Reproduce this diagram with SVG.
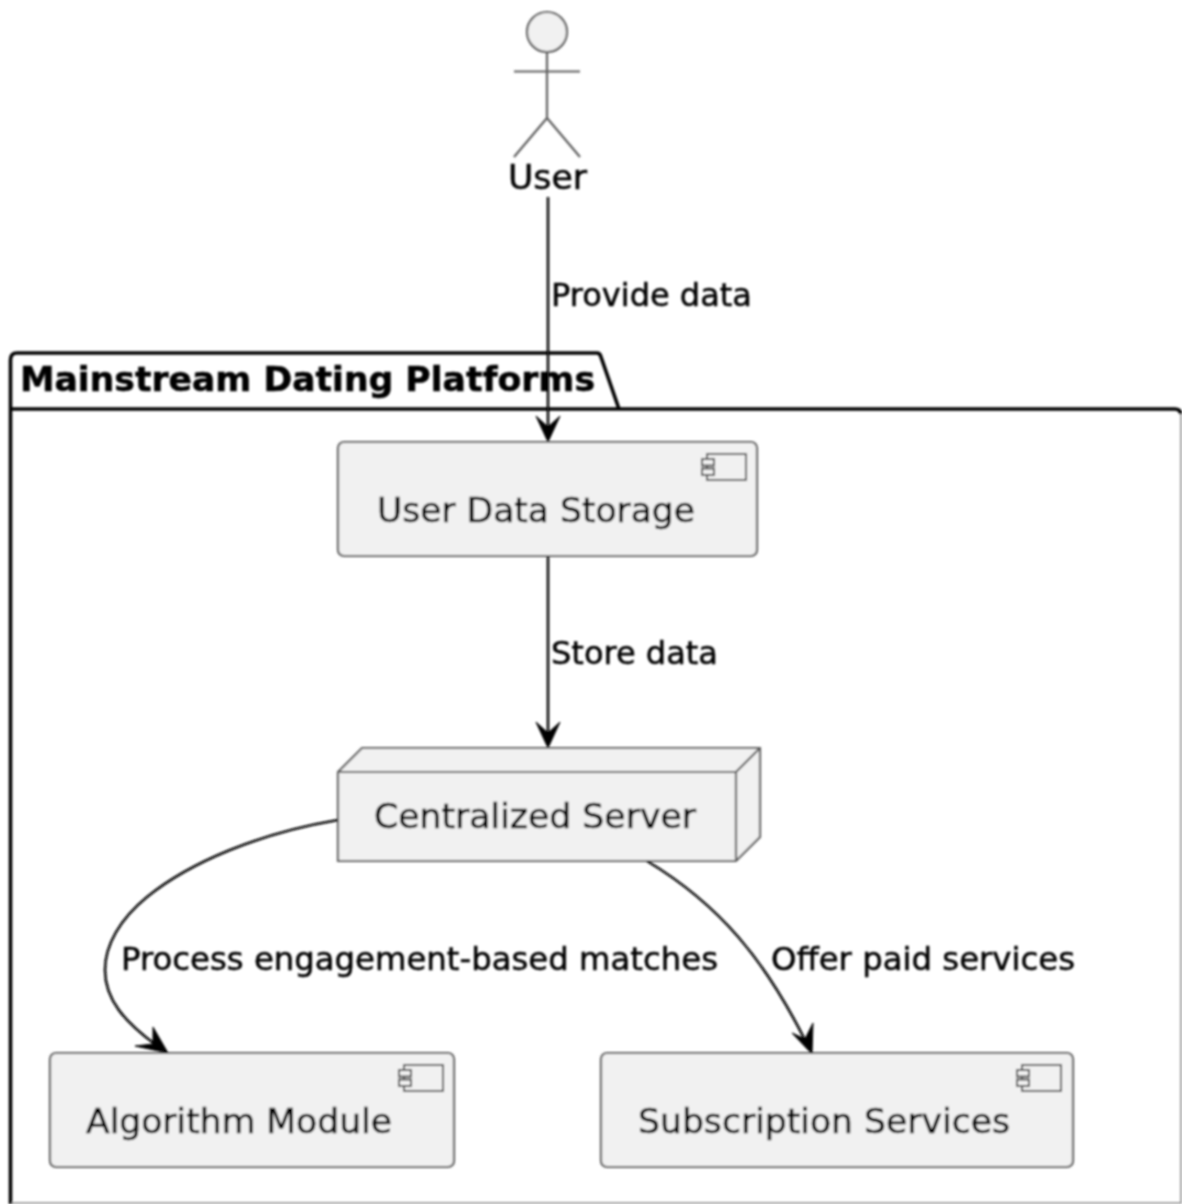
<svg xmlns="http://www.w3.org/2000/svg" width="1182" height="1204" viewBox="0 0 1182 1204">
<style>
text{font-family:"DejaVu Sans",sans-serif;fill:#000;stroke:#000;stroke-width:.5}
.t{font-size:34.500px}.l{font-size:32.200px}
.n{fill:#f1f1f1;stroke:#5e5e5e;stroke-width:2.2}
.i{fill:#f1f1f1;stroke:#505050;stroke-width:2}
.c{fill:none;stroke:#0c0c0c;stroke-width:2.600}
.h{fill:#000;stroke:#000;stroke-width:1;stroke-linejoin:round}
.p{fill:none;stroke:#000;stroke-width:3.600}
</style>
<defs>
<filter id="soft" filterUnits="userSpaceOnUse" x="0" y="0" width="1182" height="1204"><feGaussianBlur stdDeviation="0.9"/></filter>
<g id="ci"><rect x="5" y="0" width="39" height="26" class="i"/><rect x="0" y="5" width="12" height="6.5" class="i"/><rect x="0" y="14.5" width="12" height="6.5" class="i"/></g>
</defs>
<rect width="1182" height="1204" fill="#fff"/>
<g filter="url(#soft)">
<g id="package">
<path class="p" d="M10.500 1204V360Q10.500 353 17 353H597Q600 353 601 357L619 409"/>
<path class="p" d="M10.500 409H1175Q1180 409 1181 414"/>
<path d="M1181 414V1203H12" fill="none" stroke="#888" stroke-width="1.6"/>
<text x="20" y="391" font-weight="700" style="font-size:33px" textLength="575" lengthAdjust="spacingAndGlyphs">Mainstream Dating Platforms</text>
</g>
<g id="user">
<circle cx="547" cy="32" r="20" class="n"/>
<path d="M547 52V118M514 71.500H580M547 118L514 157M547 118L580 157" fill="none" stroke="#5e5e5e" stroke-width="2.2"/>
<text x="508" y="189" class="t" textLength="79" lengthAdjust="spacingAndGlyphs">User</text>
</g>
<g id="storage">
<rect x="338" y="442" width="419" height="114" rx="6" class="n"/>
<use href="#ci" x="702" y="454"/>
<text x="377" y="522" class="t" textLength="318" lengthAdjust="spacingAndGlyphs">User Data Storage</text>
</g>
<g id="server">
<path d="M338 772L362 748H760V837L736 861H338Z" class="n"/>
<path d="M338 772H736V861M736 772L760 748" fill="none" stroke="#5e5e5e" stroke-width="2.2"/>
<text x="374" y="828" class="t" textLength="322" lengthAdjust="spacingAndGlyphs">Centralized Server</text>
</g>
<g id="algorithm">
<rect x="50" y="1053" width="404" height="114" rx="6" class="n"/>
<use href="#ci" x="399" y="1065"/>
<text x="86" y="1133" class="t" textLength="306" lengthAdjust="spacingAndGlyphs">Algorithm Module</text>
</g>
<g id="subscription">
<rect x="601" y="1053" width="472" height="114" rx="6" class="n"/>
<use href="#ci" x="1017" y="1065"/>
<text x="638" y="1133" class="t" textLength="372" lengthAdjust="spacingAndGlyphs">Subscription Services</text>
</g>
<g id="connectors">
<path class="c" d="M548 197V430"/>
<path class="h" d="M548 442L536 416L548 427L560 416Z"/>
<text x="551" y="306" class="l" textLength="201" lengthAdjust="spacingAndGlyphs">Provide data</text>
<path class="c" d="M548 556V735"/>
<path class="h" d="M548 748L536 722L548 733L560 722Z"/>
<text x="551" y="664" class="l" textLength="167" lengthAdjust="spacingAndGlyphs">Store data</text>
<path class="c" d="M338 820C260 833 190 862 147 897C120 919 105 945 105 970C105 1000 125 1022 156 1045"/>
<path class="h" d="M168 1053L135 1046L153 1044L153 1027Z"/>
<text x="121" y="970" class="l" textLength="597" lengthAdjust="spacingAndGlyphs">Process engagement-based matches</text>
<path class="c" d="M647 861C720 905 765 960 806 1042"/>
<path class="h" d="M812 1054L792 1033L805 1039L813 1023Z"/>
<text x="771" y="970" class="l" textLength="304" lengthAdjust="spacingAndGlyphs">Offer paid services</text>
</g>
</g>
</svg>
